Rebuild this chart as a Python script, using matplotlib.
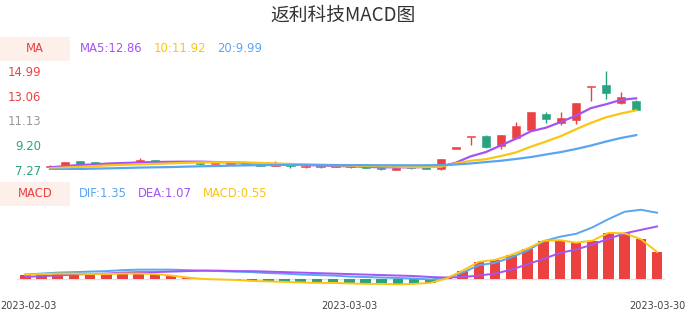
import numpy as np
import pandas as pd
import matplotlib
matplotlib.use("Agg")
import matplotlib.pyplot as plt
from matplotlib.patches import Rectangle
from matplotlib.transforms import ScaledTranslation

plt.rcParams['font.family'] = ['DejaVu Sans']

# --- dados ---
dates = pd.bdate_range('2023-02-03', '2023-03-30').strftime('%Y-%m-%d').tolist()

opens = [7.52, 7.64, 7.95, 7.84, 7.78, 7.74, 7.86, 8.05, 7.94, 7.90,
         7.78, 7.70, 7.76, 7.80, 7.72, 7.61, 7.67, 7.50, 7.60, 7.52,
         7.58, 7.50, 7.44, 7.30, 7.43, 7.40, 7.36, 8.94, 9.83, 9.93,
         9.15, 9.77, 10.40, 11.65, 10.94, 11.18, 13.71, 13.91, 12.51, 12.66]
highs = [7.66, 7.90, 8.00, 7.88, 7.82, 7.84, 8.18, 8.08, 7.98, 7.94,
         7.80, 7.76, 7.82, 7.84, 7.75, 7.97, 7.68, 7.62, 7.62, 7.60,
         7.60, 7.54, 7.46, 7.45, 7.46, 7.44, 8.16, 8.94, 9.83, 10.02,
         10.02, 11.02, 11.80, 11.80, 11.80, 12.46, 13.71, 14.99, 13.37, 12.70]
lows = [7.48, 7.62, 7.74, 7.74, 7.72, 7.72, 7.84, 7.90, 7.86, 7.84,
        7.68, 7.68, 7.72, 7.72, 7.58, 7.58, 7.45, 7.46, 7.46, 7.50,
        7.42, 7.44, 7.27, 7.28, 7.36, 7.34, 7.30, 8.94, 9.22, 8.99,
        8.91, 9.72, 10.38, 10.94, 10.79, 10.86, 12.66, 12.82, 12.43, 11.93]
closes = [7.62, 7.86, 7.77, 7.76, 7.74, 7.80, 8.06, 7.93, 7.90, 7.88,
          7.71, 7.74, 7.80, 7.74, 7.61, 7.70, 7.56, 7.60, 7.49, 7.58,
          7.50, 7.46, 7.31, 7.43, 7.40, 7.37, 8.13, 8.94, 9.83, 9.07,
          10.00, 10.71, 11.78, 11.26, 11.33, 12.46, 13.71, 13.29, 12.97, 11.96]

ma5 = [7.47, 7.58, 7.66, 7.71, 7.78, 7.82, 7.86, 7.89, 7.91, 7.92,
       7.92, 7.89, 7.87, 7.82, 7.78, 7.74, 7.70, 7.66, 7.62, 7.58,
       7.56, 7.52, 7.48, 7.48, 7.48, 7.50, 7.54, 7.84, 8.34, 8.67,
       9.19, 9.71, 10.29, 10.57, 11.02, 11.51, 12.10, 12.40, 12.74, 12.86]
ma10 = [7.40, 7.47, 7.52, 7.58, 7.64, 7.68, 7.71, 7.75, 7.79, 7.83,
        7.86, 7.87, 7.87, 7.86, 7.82, 7.78, 7.74, 7.70, 7.66, 7.64,
        7.61, 7.58, 7.56, 7.53, 7.50, 7.50, 7.53, 7.79, 7.99, 8.11,
        8.36, 8.64, 9.09, 9.49, 9.92, 10.45, 10.95, 11.38, 11.68, 11.92]
ma20 = [7.29, 7.32, 7.35, 7.38, 7.40, 7.43, 7.46, 7.48, 7.50, 7.53,
        7.56, 7.58, 7.61, 7.63, 7.65, 7.66, 7.67, 7.67, 7.67, 7.66,
        7.65, 7.65, 7.64, 7.64, 7.64, 7.64, 7.65, 7.70, 7.78, 7.89,
        7.99, 8.13, 8.28, 8.48, 8.67, 8.91, 9.18, 9.49, 9.77, 9.99]

dif = [0.09, 0.11, 0.13, 0.14, 0.15, 0.16, 0.18, 0.19, 0.19, 0.19,
       0.18, 0.17, 0.16, 0.15, 0.14, 0.12, 0.11, 0.09, 0.08, 0.07,
       0.05, 0.04, 0.03, 0.02, 0.01, -0.01, 0.02, 0.13, 0.28, 0.33,
       0.44, 0.58, 0.77, 0.86, 0.92, 1.05, 1.22, 1.37, 1.41, 1.35]
dea = [0.04, 0.06, 0.07, 0.09, 0.10, 0.11, 0.13, 0.14, 0.14, 0.15,
       0.16, 0.17, 0.17, 0.16, 0.16, 0.15, 0.14, 0.13, 0.12, 0.11,
       0.10, 0.09, 0.08, 0.07, 0.06, 0.04, 0.03, 0.04, 0.07, 0.11,
       0.19, 0.30, 0.41, 0.53, 0.60, 0.70, 0.82, 0.93, 1.00, 1.07]
macd = [0.09, 0.10, 0.11, 0.11, 0.10, 0.10, 0.11, 0.11, 0.10, 0.07,
        0.03, 0.00, -0.01, -0.02, -0.04, -0.05, -0.06, -0.07, -0.08, -0.08,
        -0.09, -0.10, -0.10, -0.11, -0.10, -0.08, 0.01, 0.17, 0.35, 0.39,
        0.49, 0.62, 0.78, 0.79, 0.74, 0.78, 0.94, 0.93, 0.81, 0.55]

price_ticks = [7.27, 9.20, 11.13, 13.06, 14.99]

# --- cores ---
RED = '#ec4141'
GREEN = '#27a37f'
PURPLE = '#a553f5'
YELLOW = '#fcc512'
BLUE = '#5aa5f0'
BOX = '#fdf0eb'

W, H = 686, 320
fig = plt.figure(figsize=(W / 100, H / 100), dpi=100)

def px_axes(x0, y0, x1, y1):
    # caixa em pixels (origem no topo)
    return fig.add_axes([x0 / W, 1 - y1 / H, (x1 - x0) / W, (y1 - y0) / H])

x = np.arange(len(dates))

# --- grafico de velas ---
ax1 = px_axes(42.5, 71, 643.7, 170)
for i in x:
    o, h, l, c = opens[i], highs[i], lows[i], closes[i]
    col = RED if c >= o else GREEN
    ax1.vlines(i, l, h, color=col, lw=1.0, clip_on=False, zorder=2)
    body = max(abs(c - o), 0.1)
    ax1.bar(i, body, bottom=min(o, c), width=0.55, color=col,
            edgecolor=col, lw=0.4, clip_on=False, zorder=3)

ax1.plot(x, ma5, color=PURPLE, lw=1.6, zorder=4, solid_joinstyle='round')
ax1.plot(x, ma10, color=YELLOW, lw=1.6, zorder=4, solid_joinstyle='round')
ax1.plot(x, ma20, color=BLUE, lw=1.6, zorder=4, solid_joinstyle='round')

ax1.set_xlim(-0.5, len(dates) - 0.5)
ax1.set_ylim(price_ticks[0], price_ticks[-1])
ax1.set_yticks(price_ticks)
ax1.set_yticklabels([f'{v:.2f}' for v in price_ticks], fontsize=8.4)
mid = price_ticks[2]
for lab, v in zip(ax1.get_yticklabels(), price_ticks):
    lab.set_color(RED if v > mid else ('#999999' if v == mid else GREEN))
ax1.tick_params(axis='y', length=0, pad=1)
ax1.set_xticks([])
for s in ax1.spines.values():
    s.set_visible(False)
ax1.patch.set_alpha(0)

# --- MACD ---
ax2 = px_axes(17.2, 205, 665.2, 286)
ax2.axhline(0, color='#e3e3e3', lw=1, zorder=1)
bar_cols = [RED if v >= 0 else GREEN for v in macd]
ax2.bar(x, macd, width=0.65, color=bar_cols, zorder=2)
ax2.plot(x, dif, color=BLUE, lw=1.4, zorder=3)
ax2.plot(x, dea, color=PURPLE, lw=1.4, zorder=3)
ax2.plot(x, macd, color=YELLOW, lw=1.4, zorder=4)
ax2.set_xlim(-0.5, len(dates) - 0.5)
ax2.set_ylim(-0.143, 1.507)
ax2.set_yticks([])
tick_idx = [0, 20, len(dates) - 1]
ax2.set_xticks(tick_idx)
ax2.set_xticklabels([dates[i] for i in tick_idx], fontsize=7, color='#444444')
ax2.tick_params(axis='x', length=0, pad=11)
labs = ax2.get_xticklabels()
labs[0].set_transform(labs[0].get_transform() + ScaledTranslation(3.2 / 100, 0, fig.dpi_scale_trans))
for s in ax2.spines.values():
    s.set_visible(False)
ax2.patch.set_alpha(0)

# --- titulo e legendas ---
fig.text(0.5, 1 - 15 / H, '返利科技MACD图', ha='center', va='center', fontsize=13.5,
         color='#333333', family=['Noto Sans CJK SC', 'DejaVu Sans'])

def px_text(px, py, s, color, ha='left'):
    fig.text(px / W, 1 - py / H, s, ha=ha, va='center', fontsize=8.4, color=color)

fig.patches.append(Rectangle((0, 1 - 61 / H), 70 / W, 24 / H, transform=fig.transFigure,
                             facecolor=BOX, edgecolor='none', zorder=0))
px_text(35, 49, 'MA', RED, ha='center')
px_text(80, 48.5, f'MA5:{ma5[-1]:.2f}', PURPLE)
px_text(153.3, 48.5, f'10:{ma10[-1]:.2f}', YELLOW)
px_text(216.7, 48.5, f'20:{ma20[-1]:.2f}', BLUE)

fig.patches.append(Rectangle((0, 1 - 206 / H), 70 / W, 24 / H, transform=fig.transFigure,
                             facecolor=BOX, edgecolor='none', zorder=0))
px_text(35, 193.5, 'MACD', RED, ha='center')
px_text(79, 193.5, f'DIF:{dif[-1]:.2f}', BLUE)
px_text(138.3, 193.5, f'DEA:{dea[-1]:.2f}', PURPLE)
px_text(203.3, 193.5, f'MACD:{macd[-1]:.2f}', YELLOW)

fig.savefig('out.png', dpi=100)
